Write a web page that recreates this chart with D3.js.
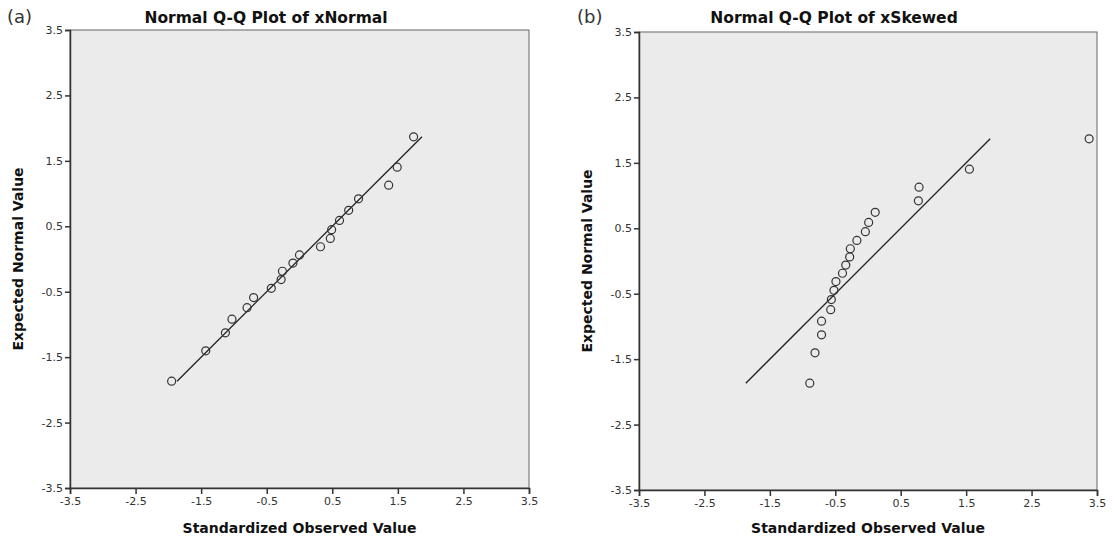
<!DOCTYPE html>
<html>
<head>
<meta charset="utf-8">
<script src="https://cdn.jsdelivr.net/npm/d3@7"></script>
<style>
  body { margin: 0; background: #fff; }
  svg text { font-family: "DejaVu Sans", sans-serif; }
</style>
</head>
<body>
<div id="chart"></div>
<script>
// expected normal values (same ranks in both panels)
const expected = [-1.868, -1.403, -1.128, -0.919, -0.744, -0.589, -0.448, -0.315, -0.187, -0.062,
  0.062, 0.187, 0.315, 0.448, 0.589, 0.744, 0.919, 1.128, 1.403, 1.868];

const xNormal = [-1.95, -1.43, -1.13, -1.03, -0.80, -0.70, -0.43, -0.28, -0.26, -0.10,
  0.00, 0.32, 0.47, 0.49, 0.61, 0.75, 0.90, 1.36, 1.49, 1.74];
const xSkewed = [-0.89, -0.81, -0.71, -0.71, -0.57, -0.56, -0.52, -0.49, -0.39, -0.34,
  -0.28, -0.27, -0.17, -0.04, 0.01, 0.11, 0.77, 0.78, 1.55, 3.38];

const tickValues = [-3.5, -2.5, -1.5, -0.5, 0.5, 1.5, 2.5, 3.5];
const tickLabels = ["-3.5", "-2.5", "-1.5", "-0.5", "0.5", "1.5", "2.5", "3.5"];
const refLine = [-1.868, 1.868];

const panels = [
  { letter: "(a)", title: "Normal Q-Q Plot of xNormal", observed: xNormal,
    left: 70, right: 529, top: 30, bottom: 488, letterX: 7, titleX: 266, yTitleX: 23 },
  { letter: "(b)", title: "Normal Q-Q Plot of xSkewed", observed: xSkewed,
    left: 639, right: 1097, top: 32, bottom: 490, letterX: 577, titleX: 834, yTitleX: 592 }
];

let svg = d3.select("#chart").append("svg").attr("width", 1114).attr("height", 538);

panels.forEach(function(p) {
  let x = d3.scaleLinear().domain([-3.5, 3.5]).range([p.left, p.right]);
  let y = d3.scaleLinear().domain([-3.5, 3.5]).range([p.bottom, p.top]);
  let g = svg.append("g");

  g.append("rect")
    .attr("x", p.left).attr("y", p.top)
    .attr("width", p.right - p.left).attr("height", p.bottom - p.top)
    .attr("fill", "#ebebeb").attr("stroke", "#666").attr("stroke-width", 1);

  let fmt = function(d) { return tickLabels[tickValues.indexOf(d)]; };

  let xAxis = g.append("g")
    .attr("transform", "translate(0," + p.bottom + ")")
    .call(d3.axisBottom(x).tickValues(tickValues).tickFormat(fmt).tickSizeOuter(0).tickSize(6).tickPadding(3));
  let yAxis = g.append("g")
    .attr("transform", "translate(" + p.left + ",0)")
    .call(d3.axisLeft(y).tickValues(tickValues).tickFormat(fmt).tickSizeOuter(0).tickSize(5).tickPadding(2));

  [xAxis, yAxis].forEach(function(a) {
    a.select(".domain").attr("stroke", "#333").attr("stroke-width", 1.5);
    a.selectAll(".tick line").attr("stroke", "#333").attr("stroke-width", 1.5);
    a.selectAll(".tick text").attr("fill", "#333").style("font-size", "11px");
  });

  g.append("line")
    .attr("x1", x(refLine[0])).attr("y1", y(refLine[0]))
    .attr("x2", x(refLine[1])).attr("y2", y(refLine[1]))
    .attr("stroke", "#222").attr("stroke-width", 1.3);

  g.selectAll("circle.pt")
    .data(p.observed.map(function(v, i) { return [v, expected[i]]; }))
    .enter().append("circle")
    .attr("class", "pt")
    .attr("cx", function(d) { return x(d[0]); })
    .attr("cy", function(d) { return y(d[1]); })
    .attr("r", 4)
    .attr("fill", "none")
    .attr("stroke", "#333")
    .attr("stroke-width", 1.2);

  g.append("text")
    .attr("x", p.letterX).attr("y", 23)
    .style("font-size", "18px")
    .attr("fill", "#333")
    .text(p.letter);

  g.append("text")
    .attr("x", p.titleX).attr("y", 23)
    .attr("text-anchor", "middle")
    .style("font-size", "15.5px").style("font-weight", "bold")
    .attr("fill", "#111")
    .text(p.title);

  g.append("text")
    .attr("x", (p.left + p.right) / 2).attr("y", 533)
    .attr("text-anchor", "middle")
    .style("font-size", "14px").style("font-weight", "bold")
    .attr("fill", "#111")
    .text("Standardized Observed Value");

  g.append("text")
    .attr("transform", "translate(" + p.yTitleX + "," + (p.top + p.bottom) / 2 + ") rotate(-90)")
    .attr("text-anchor", "middle")
    .style("font-size", "14px").style("font-weight", "bold")
    .attr("fill", "#111")
    .text("Expected Normal Value");
});
</script>
</body>
</html>
